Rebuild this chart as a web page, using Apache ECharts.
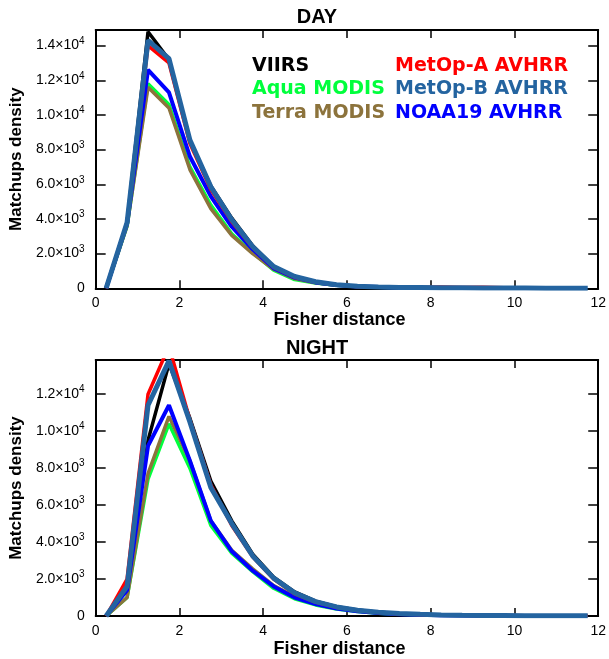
<!DOCTYPE html>
<html>
<head>
<meta charset="utf-8">
<script src="https://cdn.jsdelivr.net/npm/echarts@6/dist/echarts.min.js"></script>
<style>
html,body{margin:0;padding:0;background:#fff;}
#chart{width:609px;height:659px;}
</style>
</head>
<body>
<div id="chart"></div>
<script>
// Bin centres of Fisher distance
const fisherX = [0.25,0.75,1.25,1.75,2.25,2.75,3.25,3.75,4.25,4.75,5.25,5.75,6.25,6.75,7.25,7.75,8.25,8.75,9.25,9.75,10.25,10.75,11.25,11.75];

const seriesNames = ['VIIRS','Aqua MODIS','Terra MODIS','MetOp-A AVHRR','MetOp-B AVHRR','NOAA19 AVHRR'];
const seriesColors = ['#000000','#00ff3c','#8c733c','#ff0000','#2464a0','#0000ff'];

// DAY panel
const dayVIIRS  = [0,3800,14800,13200,8500,5900,4050,2450,1250,680,380,210,120];
const dayAqua   = [0,3600,11800,10600,7000,4800,3150,2050,1050,500,300,170,100,60,40,30];
const dayTerra  = [0,3600,11600,10400,6850,4600,3050,2000,1100,560,320,180,100,60];
const dayMetopA = [0,3800,14000,13000,8350,5700,3850,2350,1200,640,360,200,110,70,50,40,70,40,60,30];
const dayMetopB = [0,3800,14300,13250,8550,5850,3950,2400,1250,680,380,210,120,80,50,40,30,25,20,15,15,10,10,10];
const dayNOAA19 = [0,3750,12600,11300,7600,5300,3550,2250,1150,620,340,190,110,70,40];

// NIGHT panel
const nightVIIRS  = [0,1500,9500,13650,10700,7300,5150,3350,2100,1300,800,500,320,200,130,90,60];
const nightAqua   = [0,1000,7400,10400,8000,4900,3400,2400,1500,930,600,380,240,150,100,70,45,30,25,20,15,15];
const nightTerra  = [0,1000,7700,10800,8400,5150,3550,2550,1650,1050,680,430,270,170,110,70,45,30,25,20,15,15];
const nightMetopA = [0,2000,12000,14600,10600,7100,4900,3200,2000,1200,750,470,300,190,120,80,50,40,30,25,20,20,15,15];
const nightMetopB = [0,1600,11400,13800,10500,6950,5000,3250,2050,1250,780,490,310,200,130,90,60,40,30,25,20,20,15,15];
const nightNOAA19 = [0,1400,9200,11400,8400,5150,3500,2450,1600,1000,650,400,250,160,100,70,45,30,20,15];

const xTicks = [0,2,4,6,8,10,12];

const dayData = [dayVIIRS, dayAqua, dayTerra, dayMetopA, dayMetopB, dayNOAA19];
const nightData = [nightVIIRS, nightAqua, nightTerra, nightMetopA, nightMetopB, nightNOAA19];
// drawing order (bottom to top)
const drawOrder = [1,2,0,5,3,4];
const lineWidths = [3.5,3.5,3.5,3.5,5,4];

function yFmt(v){
  if (v === 0) return '{m|0}';
  if (v % 2000 !== 0) return '';
  if (v >= 10000) return '{m|' + (v/10000).toFixed(1) + '×10}{s|4}';
  return '{m|' + (v/1000).toFixed(1) + '×10}{s|3}';
}

const fontFam = 'Liberation Sans, Arial, sans-serif';
const tickFont = {color:'#000', fontFamily:fontFam, fontSize:14};
const nameFont = {color:'#000', fontFamily:fontFam, fontSize:17, fontWeight:'bold'};
const axisLine = {show:true, onZero:false, lineStyle:{color:'#000', width:2}};

function xAx(grid, bottom){
  return {
    type:'value', gridIndex:grid, min:0, max:12, interval:2,
    position: bottom ? 'bottom' : 'top',
    axisLine: axisLine,
    axisTick:{show:true, inside:true, length:8, lineStyle:{color:'#000', width:1.5}},
    axisLabel:{show:bottom, margin:8, formatter: v => xTicks.includes(v) ? String(v) : '', ...tickFont},
    splitLine:{show:false},
    name: bottom ? 'Fisher distance' : '',
    nameLocation:'middle', nameGap: grid === 0 ? 23 : 24,
    nameTextStyle:{...nameFont, fontSize:18, padding:[0,15,0,0]}
  };
}
function yAx(grid, left, max){
  return {
    type:'value', gridIndex:grid, min:0, max:max, interval:2000,
    position: left ? 'left' : 'right',
    axisLine: axisLine,
    axisTick:{show:true, inside:true, length:10, lineStyle:{color:'#000', width:1.5}},
    axisLabel:{show:left, margin:11, formatter:yFmt, color:'#000',
      rich:{
        m:{fontFamily:fontFam, fontSize:14, color:'#000'},
        s:{fontFamily:fontFam, fontSize:10, color:'#000', padding:[0,0,9,0]}
      }},
    splitLine:{show:false},
    name: left ? 'Matchups density' : '',
    nameLocation:'middle', nameGap:64,
    nameTextStyle:{...nameFont}
  };
}

const series = [];
[dayData, nightData].forEach((set, g) => {
  drawOrder.forEach(i => {
    series.push({
      name: seriesNames[i], type:'line',
      xAxisIndex: g*2, yAxisIndex: g*2,
      data: set[i].map((v,k) => [fisherX[k], v]),
      symbol:'none', silent:true,
      lineStyle:{color:seriesColors[i], width:lineWidths[i]},
      itemStyle:{color:seriesColors[i]}
    });
  });
});

const legendFont = {fontFamily:'DejaVu Sans, sans-serif', fontSize:19, fontWeight:'bold', lineHeight:20};
function legendData(idx){
  return idx.map(i => ({name:seriesNames[i], icon:'none', textStyle:{color:seriesColors[i]}}));
}

const option = {
  animation:false,
  backgroundColor:'#fff',
  grid:[
    {left:93, right:7, top:30, bottom:370.7, containLabel:false},
    {left:93, right:7, top:360, bottom:41.7, containLabel:false}
  ],
  xAxis:[xAx(0,true), xAx(0,false), xAx(1,true), xAx(1,false)],
  yAxis:[yAx(0,true,14900), yAx(0,false,14900), yAx(1,true,13850), yAx(1,false,13850)],
  legend:[
    {orient:'vertical', left:247, top:56, padding:0, itemWidth:0, itemHeight:20, itemGap:3.5,
     selectedMode:false, textStyle:legendFont, data:legendData([0,1,2])},
    {orient:'vertical', left:390, top:56, padding:0, itemWidth:0, itemHeight:20, itemGap:3.5,
     selectedMode:false, textStyle:legendFont, data:legendData([3,4,5])}
  ],
  graphic:[
    {type:'text', x:317, y:17, style:{text:'DAY', textAlign:'center', textVerticalAlign:'middle',
      font:'bold 20px "Liberation Sans", Arial, sans-serif', fill:'#000'}},
    {type:'text', x:317, y:348, style:{text:'NIGHT', textAlign:'center', textVerticalAlign:'middle',
      font:'bold 20px "Liberation Sans", Arial, sans-serif', fill:'#000'}}
  ],
  series: series
};

const chart = echarts.init(document.getElementById('chart'), null, {renderer:'canvas'});
chart.setOption(option);
</script>
</body>
</html>
